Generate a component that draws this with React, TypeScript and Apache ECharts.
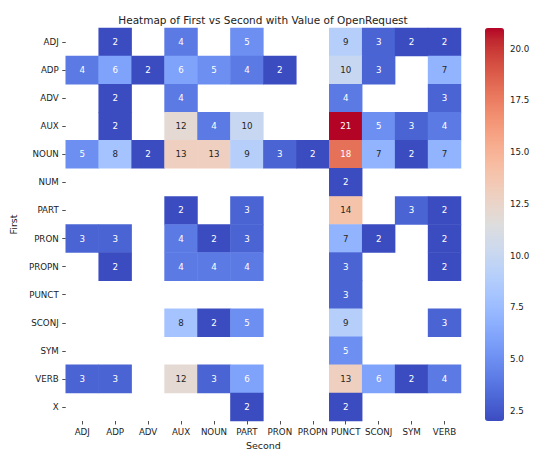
import React, { useEffect, useRef } from "react";
import * as echarts from "echarts";

// Category axes
const secondCats = ["ADJ", "ADP", "ADV", "AUX", "NOUN", "PART", "PRON", "PROPN", "PUNCT", "SCONJ", "SYM", "VERB"];
const firstCats = ["ADJ", "ADP", "ADV", "AUX", "NOUN", "NUM", "PART", "PRON", "PROPN", "PUNCT", "SCONJ", "SYM", "VERB", "X"];

// OpenRequest counts per First row, one entry per Second column (null = no pair)
const rowADJ = [null, 2, null, 4, null, 5, null, null, 9, 3, 2, 2];
const rowADP = [4, 6, 2, 6, 5, 4, 2, null, 10, 3, null, 7];
const rowADV = [null, 2, null, 4, null, null, null, null, 4, null, null, 3];
const rowAUX = [null, 2, null, 12, 4, 10, null, null, 21, 5, 3, 4];
const rowNOUN = [5, 8, 2, 13, 13, 9, 3, 2, 18, 7, 2, 7];
const rowNUM = [null, null, null, null, null, null, null, null, 2, null, null, null];
const rowPART = [null, null, null, 2, null, 3, null, null, 14, null, 3, 2];
const rowPRON = [3, 3, null, 4, 2, 3, null, null, 7, 2, null, 2];
const rowPROPN = [null, 2, null, 4, 4, 4, null, null, 3, null, null, 2];
const rowPUNCT = [null, null, null, null, null, null, null, null, 3, null, null, null];
const rowSCONJ = [null, null, null, 8, 2, 5, null, null, 9, null, null, 3];
const rowSYM = [null, null, null, null, null, null, null, null, 5, null, null, null];
const rowVERB = [3, 3, null, 12, 3, 6, null, null, 13, 6, 2, 4];
const rowX = [null, null, null, null, null, 2, null, null, 2, null, null, null];

const rows: (number | null)[][] = [
  rowADJ, rowADP, rowADV, rowAUX, rowNOUN, rowNUM, rowPART,
  rowPRON, rowPROPN, rowPUNCT, rowSCONJ, rowSYM, rowVERB, rowX,
];

// Colour bar range and tick labels
const valueMin = 2;
const valueMax = 21;
const colorbarTicks = [2.5, 5, 7.5, 10, 12.5, 15, 17.5, 20];

// Diverging cool-to-warm palette (33 evenly spaced stops)
const coolwarm: number[][] = [
  [59, 76, 192], [68, 90, 204], [77, 104, 215], [87, 117, 225], [98, 130, 234],
  [108, 142, 241], [119, 154, 247], [130, 165, 251], [141, 176, 254], [152, 185, 255],
  [163, 194, 255], [174, 201, 253], [184, 208, 249], [194, 213, 244], [204, 217, 238],
  [213, 219, 230], [221, 221, 221], [229, 216, 209], [236, 211, 197], [241, 204, 185],
  [245, 196, 173], [247, 187, 160], [247, 177, 148], [247, 166, 135], [244, 154, 123],
  [241, 141, 111], [236, 127, 99], [229, 112, 88], [222, 96, 77], [213, 80, 66],
  [203, 62, 56], [192, 40, 47], [180, 4, 38],
];
const coolwarmHex = coolwarm.map(
  (c) => "#" + c.map((v) => v.toString(16).padStart(2, "0")).join("")
);

function colorAt(v: number): number[] {
  const t = Math.min(1, Math.max(0, (v - valueMin) / (valueMax - valueMin)));
  const pos = t * (coolwarm.length - 1);
  const i = Math.min(coolwarm.length - 2, Math.floor(pos));
  const f = pos - i;
  return coolwarm[i].map((c, k) => c + (coolwarm[i + 1][k] - c) * f);
}

// Dark text on light cells, white text on dark cells
function annotColor(v: number): string {
  const lin = colorAt(v).map((c) => {
    const s = c / 255;
    return s <= 0.03928 ? s / 12.92 : Math.pow((s + 0.055) / 1.055, 2.4);
  });
  const lum = 0.2126 * lin[0] + 0.7152 * lin[1] + 0.0722 * lin[2];
  return lum > 0.408 ? "#262626" : "#ffffff";
}

const FONT = "DejaVu Sans";
const TXT = "#222222";

export default function App() {
  const ref = useRef<HTMLDivElement>(null);

  useEffect(() => {
    if (!ref.current) return;
    const chart = echarts.init(ref.current, undefined, { renderer: "svg" });

    const cells: any[] = [];
    rows.forEach((row, yi) => {
      row.forEach((v, xi) => {
        if (v == null) return;
        cells.push({
          value: [xi, yi, v],
          label: { color: annotColor(v) },
        });
      });
    });

    const gridLeft = 65;
    const gridTop = 28;
    const gridW = 396;
    const gridH = 393;

    chart.setOption({
      animation: false,
      backgroundColor: "#ffffff",
      textStyle: { fontFamily: FONT },
      title: {
        text: "Heatmap of First vs Second with Value of OpenRequest",
        left: gridLeft + gridW / 2,
        textAlign: "center",
        top: 14,
        padding: 0,
        textStyle: { fontFamily: FONT, fontSize: 10.5, fontWeight: "normal", color: TXT },
      },
      grid: [
        { left: gridLeft, top: gridTop, width: gridW, height: gridH },
        { left: 485, top: gridTop, width: 19, height: gridH },
      ],
      xAxis: [
        {
          type: "category",
          gridIndex: 0,
          data: secondCats,
          name: "Second",
          nameLocation: "middle",
          nameGap: 19,
          nameTextStyle: { fontFamily: FONT, fontSize: 9.5, color: TXT },
          axisLine: { show: false },
          axisTick: { show: true, alignWithLabel: true, length: 3.5, lineStyle: { color: TXT, width: 0.8 } },
          axisLabel: { fontFamily: FONT, fontSize: 8.7, color: TXT, margin: 6, interval: 0 },
          splitLine: { show: false },
        },
        { type: "value", gridIndex: 1, show: false, min: 0, max: 1 },
      ],
      yAxis: [
        {
          type: "category",
          gridIndex: 0,
          data: firstCats,
          inverse: true,
          name: "First",
          nameLocation: "middle",
          nameGap: 43,
          nameTextStyle: { fontFamily: FONT, fontSize: 9.5, color: TXT },
          axisLine: { show: false },
          axisTick: { show: true, alignWithLabel: true, length: 3.5, lineStyle: { color: TXT, width: 0.8 } },
          axisLabel: { fontFamily: FONT, fontSize: 8.7, color: TXT, margin: 7, interval: 0 },
          splitLine: { show: false },
        },
        {
          type: "value",
          gridIndex: 1,
          position: "right",
          min: valueMin,
          max: valueMax,
          axisLine: { show: false },
          splitLine: { show: false },
          axisTick: {
            show: true,
            length: 3.5,
            customValues: colorbarTicks,
            lineStyle: { color: TXT, width: 0.8 },
          },
          axisLabel: {
            show: true,
            customValues: colorbarTicks,
            formatter: (v: number) => v.toFixed(1),
            fontFamily: FONT,
            fontSize: 8.7,
            color: TXT,
            margin: 6,
          },
        },
      ],
      visualMap: {
        type: "continuous",
        seriesIndex: 0,
        min: valueMin,
        max: valueMax,
        calculable: false,
        show: true,
        orient: "vertical",
        left: 485,
        top: gridTop,
        padding: 0,
        itemWidth: 19,
        itemHeight: gridH,
        text: null,
        showLabel: false,
        hoverLink: false,
        inRange: { color: coolwarmHex },
      },
      series: [
        {
          type: "heatmap",
          xAxisIndex: 0,
          yAxisIndex: 0,
          data: cells,
          label: {
            show: true,
            fontFamily: FONT,
            fontSize: 8.7,
            formatter: (p: any) => String(p.value[2]),
          },
          itemStyle: { borderWidth: 0 },
          emphasis: { disabled: true },
        },
        {
          type: "scatter",
          xAxisIndex: 1,
          yAxisIndex: 1,
          data: [],
          silent: true,
        },
      ],
    });

    return () => chart.dispose();
  }, []);

  return (
    <div
      ref={ref}
      style={{ position: "fixed", left: 0, top: 0, width: 541, height: 476, background: "#fff" }}
    />
  );
}
